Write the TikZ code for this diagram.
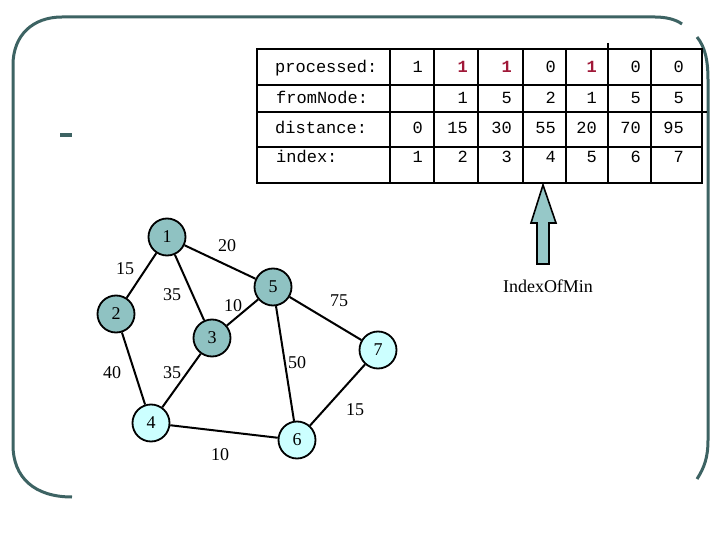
\documentclass[tikz,border=0pt]{standalone}
\usepackage{fontspec}
\setmainfont{Liberation Serif}
\setmonofont{Liberation Mono}
\definecolor{frameclr}{RGB}{61,99,99}
\definecolor{doneclr}{RGB}{143,194,194}
\definecolor{todoclr}{RGB}{204,255,255}
\definecolor{arrowclr}{RGB}{150,200,200}
\definecolor{hotred}{RGB}{160,24,56}
\newcommand\hotval[1]{\textbf{\color{hotred}#1}}
\begin{document}
\begin{tikzpicture}[x=1pt,y=-1pt,
  frame/.style={draw=frameclr, line width=3pt},
  gnode/.style={circle, draw, line width=1.8pt, minimum size=37pt, inner sep=0pt, font=\fontsize{18}{18}\selectfont},
  done/.style={gnode, fill=doneclr},
  todo/.style={gnode, fill=todoclr},
  edge/.style={draw, line width=2pt},
  elabel/.style={inner sep=0pt, font=\fontsize{18}{18}\selectfont},
  grid/.style={draw, line width=1.8pt},
  tlabel/.style={inner sep=0pt, anchor=base west, font=\ttfamily\fontsize{17}{17}\selectfont},
  tval/.style={inner sep=0pt, anchor=base east, font=\ttfamily\fontsize{17}{17}\selectfont}]
\useasboundingbox (0,0) rectangle (720,540);
% frame
\draw[frame] (72,497) .. controls (35,497) and (13,478) .. (13,445) -- (13,65)
  .. controls (13,35) and (33,17) .. (62,17) -- (655,17) .. controls (665,17) and (675,19) .. (682,24);
\draw[frame] (697,37) .. controls (705,47) and (708,60) .. (708,80) -- (708,440)
  .. controls (708,458) and (704,468) .. (697,479);
\fill[frameclr] (60,133) rectangle (72,137);
% table grid
\draw[grid] (257,49) rectangle (702,183);
\foreach \x in {390,434,478,523,566,608,651} \draw[grid] (\x,49) -- (\x,183);
\draw[grid] (608,43) -- (608,49);
\draw[grid] (257,85) -- (702,85);
\draw[grid, line width=2.2pt] (257,112) -- (707,112);
\draw[grid] (257,147) -- (702,147);
% table labels
\node[tlabel] (lp) at (275,73) {processed:};
\node[tlabel] (lf) at (276,104) {fromNode:};
\node[tlabel] (ld) at (275,134) {distance:};
\node[tlabel] (li) at (276,163) {index:};
\foreach \x/\v [count=\i] in {423/1,468/\hotval{1},512/\hotval{1},556/0,597/\hotval{1},641/0,684/0}
  \node[tval] (p\i) at (\x,73) {\v};
\foreach \x/\v [count=\i] in {468/1,512/5,556/2,597/1,641/5,684/5}
  \node[tval] (f\i) at (\x,104) {\v};
\foreach \x/\v [count=\i] in {423/0,468/15,512/30,556/55,597/20,641/70,684/95}
  \node[tval] (d\i) at (\x,134) {\v};
\foreach \x/\v [count=\i] in {423/1,468/2,512/3,556/4,597/5,641/6,684/7}
  \node[tval] (x\i) at (\x,163) {\v};
% arrow
\draw[line width=1.6pt, fill=arrowclr] (543,185) -- (556,223) -- (549,223) -- (549,264)
  -- (537,264) -- (537,223) -- (531,223) -- cycle;
\node[inner sep=0pt, font=\fontsize{18}{18}\selectfont] (iom) at (548,286) {IndexOfMin};
% graph
\node[done] (n1) at (167,237) {1};
\node[done] (n2) at (116,314) {2};
\node[done] (n3) at (212,338) {3};
\node[todo] (n4) at (151,423) {4};
\node[done] (n5) at (273,287) {5};
\node[todo] (n6) at (297,440) {6};
\node[todo] (n7) at (378,350) {7};
\path[edge] (n1) -- (n2);
\path[edge] (n1) -- (n3);
\path[edge] (n1) -- (n5);
\path[edge] (n3) -- (n5);
\path[edge] (n2) -- (n4);
\path[edge] (n3) -- (n4);
\path[edge] (n4) -- (n6);
\path[edge] (n5) -- (n6);
\path[edge] (n5) -- (n7);
\path[edge] (n7) -- (n6);
\node[elabel] (e15) at (227,246) {20};
\node[elabel] (e12) at (125,269) {15};
\node[elabel] (e13) at (172,295) {35};
\node[elabel] (e35) at (233,306) {10};
\node[elabel] (e57) at (339,301) {75};
\node[elabel] (e24) at (112,373) {40};
\node[elabel] (e34) at (172,373) {35};
\node[elabel] (e56) at (297,363) {50};
\node[elabel] (e67) at (355,410) {15};
\node[elabel] (e46) at (220,455) {10};
\end{tikzpicture}
\end{document}
